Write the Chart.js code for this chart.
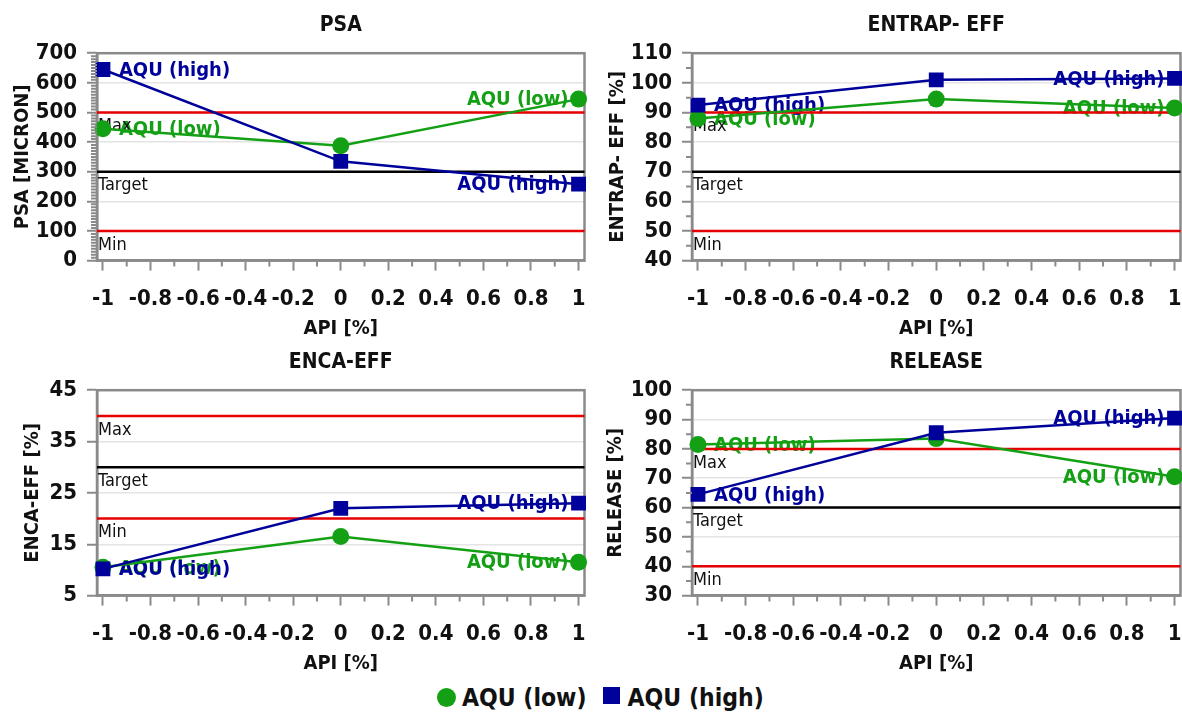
<!DOCTYPE html>
<html>
<head>
<meta charset="utf-8">
<title>API response plots</title>
<script src="https://cdn.jsdelivr.net/npm/chart.js@4.4.1/dist/chart.umd.min.js"></script>
<style>
  html, body { margin: 0; padding: 0; background: #fff; }
  body { width: 1182px; height: 712px; position: relative; overflow: hidden; font-family: "DejaVu Sans Condensed", "DejaVu Sans", sans-serif; }
  canvas { position: absolute; }
  #psaChart { left: 0; top: 0; }
  #entrapChart { left: 590px; top: 0; }
  #encaChart { left: 0; top: 337px; }
  #releaseChart { left: 590px; top: 337px; }
  .legend { position: absolute; left: 437px; top: 682px; height: 30px; display: flex; align-items: center; font-weight: bold; font-size: 24.5px; color: #111; white-space: nowrap; }
  .legend .dot { width: 19px; height: 19px; border-radius: 50%; background: #14a014; margin-right: 6px; }
  .legend .sq { width: 17px; height: 17px; background: #00009a; margin: 0 8px 4px 16px; }
</style>
</head>
<body>
<canvas id="psaChart" width="595" height="344"></canvas>
<canvas id="entrapChart" width="601" height="344"></canvas>
<canvas id="encaChart" width="595" height="342"></canvas>
<canvas id="releaseChart" width="601" height="342"></canvas>
<div class="legend">
  <span class="dot"></span><span>AQU (low)</span><span class="sq"></span><span>AQU (high)</span>
</div>

<script>
// factor levels (x) and series
const apiLevels = [-1, 0, 1];
const seriesNames = ["AQU (low)", "AQU (high)"];
const xTicks = [-1, -0.8, -0.6, -0.4, -0.2, 0, 0.2, 0.4, 0.6, 0.8, 1];
const limitNames = ["Max", "Target", "Min"];

// PSA [MICRON]
const psaLow = [445, 388, 545];
const psaHigh = [645, 335, 258];
const psaLimits = [500, 300, 100];
const psaTicks = [0, 100, 200, 300, 400, 500, 600, 700];

// ENTRAP- EFF [%]
const entrapLow = [88, 94.5, 91.5];
const entrapHigh = [92.5, 101, 101.5];
const entrapLimits = [90, 70, 50];
const entrapTicks = [40, 50, 60, 70, 80, 90, 100, 110];

// ENCA-EFF [%]
const encaLow = [10.5, 16.5, 11.5];
const encaHigh = [10.2, 22, 23];
const encaLimits = [40, 30, 20];
const encaTicks = [5, 15, 25, 35, 45];

// RELEASE [%]
const releaseLow = [81.5, 83.5, 70.5];
const releaseHigh = [64.5, 85.5, 90.5];
const releaseLimits = [80, 60, 40];
const releaseTicks = [30, 40, 50, 60, 70, 80, 90, 100];

const GREEN = "#14a014";
const BLUE = "#00009a";
const RED = "#e60000";
const AXIS = "#8a8a8a";
const FONT = '"DejaVu Sans Condensed", "DejaVu Sans"';
const limitColors = [RED, "#000000", RED];

// plot frame (top/right edges) drawn under the marks
const frame = {
  id: "frame",
  beforeDatasetsDraw(chart) {
    const { ctx, chartArea: a } = chart;
    ctx.save();
    ctx.strokeStyle = AXIS;
    ctx.lineWidth = 2.5;
    ctx.strokeRect(a.left, a.top, a.right - a.left, a.bottom - a.top);
    ctx.restore();
  }
};

// short ticks between the labelled ones
const minorTicks = {
  id: "minorTicks",
  afterDraw(chart, args, opts) {
    const { ctx, chartArea: a, scales } = chart;
    ctx.save();
    ctx.strokeStyle = AXIS;
    ctx.lineWidth = 2;
    ctx.beginPath();
    for (let v = -0.9; v < 1; v += 0.2) {
      const px = scales.x.getPixelForValue(v);
      ctx.moveTo(px, a.bottom);
      ctx.lineTo(px, a.bottom + 6);
    }
    if (opts.yStep) {
      const y = scales.y;
      const majors = y.ticks.map(t => t.value);
      for (let v = y.min + opts.yStep; v < y.max - 1e-6; v += opts.yStep) {
        if (majors.some(m => Math.abs(m - v) < 1e-6)) continue;
        const py = y.getPixelForValue(v);
        ctx.moveTo(a.left, py);
        ctx.lineTo(a.left - 6, py);
      }
    }
    ctx.stroke();
    ctx.restore();
  }
};

// series names beside the end points, then the Max / Target / Min lines
const annotate = {
  id: "annotate",
  beforeDatasetsDraw(chart, args, opts) {
    const { ctx, chartArea: a, scales } = chart;
    ctx.save();
    ctx.font = "bold 20px " + FONT;
    ctx.textBaseline = "middle";
    chart.data.datasets.forEach((ds, i) => {
      const pts = chart.getDatasetMeta(i).data;
      const first = pts[0], last = pts[pts.length - 1];
      ctx.fillStyle = ds.borderColor;
      ctx.textAlign = "left";
      ctx.fillText(ds.label, first.x + 16, first.y + 1);
      ctx.textAlign = "right";
      ctx.fillText(ds.label, last.x - 10, last.y + 1);
    });

    opts.limits.forEach((v, i) => {
      const py = scales.y.getPixelForValue(v);
      ctx.strokeStyle = limitColors[i];
      ctx.lineWidth = 2.5;
      ctx.beginPath();
      ctx.moveTo(a.left, py);
      ctx.lineTo(a.right, py);
      ctx.stroke();
      ctx.fillStyle = "#111";
      ctx.font = "18px " + FONT;
      ctx.textAlign = "left";
      ctx.textBaseline = "top";
      ctx.fillText(limitNames[i], a.left + 1, py + 5);
    });
    ctx.restore();
  }
};

function points(values) {
  return apiLevels.map((x, i) => ({ x: x, y: values[i] }));
}

function fmt(v) {
  return String(Math.round(v * 10) / 10);
}

function makeChart(id, c) {
  const bold = size => ({ family: FONT, size: size, weight: "bold" });
  return new Chart(document.getElementById(id), {
    type: "line",
    data: {
      datasets: [
        {
          label: seriesNames[0],
          data: points(c.low),
          borderColor: GREEN,
          backgroundColor: GREEN,
          borderWidth: 2.5,
          pointStyle: "circle",
          pointRadius: 8.5,
          pointBorderWidth: 0,
          order: 1,
          clip: 20
        },
        {
          label: seriesNames[1],
          data: points(c.high),
          borderColor: BLUE,
          backgroundColor: BLUE,
          borderWidth: 2.5,
          pointStyle: "rect",
          pointRadius: 10.5,
          pointBorderWidth: 0,
          order: 0,
          clip: 20
        }
      ]
    },
    options: {
      responsive: false,
      animation: false,
      layout: { padding: { right: 1 } },
      plugins: {
        legend: { display: false },
        tooltip: { enabled: false },
        title: {
          display: true,
          fullSize: false,
          text: c.title,
          color: "#111",
          font: bold(21),
          padding: { top: 13, bottom: 15 }
        },
        annotate: { limits: c.limits },
        minorTicks: { yStep: c.minorStep }
      },
      scales: {
        x: {
          type: "linear",
          min: -1.025,
          max: 1.025,
          afterBuildTicks: s => { s.ticks = xTicks.map(v => ({ value: v })); },
          // end labels sit inside the frame, so no extra side padding
          afterFit: s => { s.paddingLeft = 0; s.paddingRight = 0; },
          ticks: {
            autoSkip: false,
            maxRotation: 0,
            padding: 15,
            color: "#111",
            font: bold(22),
            callback: v => fmt(v)
          },
          grid: { drawOnChartArea: false, tickColor: AXIS, tickLength: 10, tickWidth: 2 },
          border: { color: AXIS, width: 2.5 },
          title: {
            display: true,
            text: "API [%]",
            color: "#111",
            font: bold(20),
            padding: { top: -10, bottom: 3 }
          }
        },
        y: {
          min: c.ticks[0],
          max: c.ticks[c.ticks.length - 1],
          afterBuildTicks: s => { s.ticks = c.ticks.map(v => ({ value: v })); },
          afterFit: s => { s.width = c.axisWidth; },
          ticks: { autoSkip: false, padding: 10, color: "#111", font: bold(22) },
          grid: { color: "#e4e4e4", lineWidth: 1.5, tickColor: AXIS, tickLength: 10, tickWidth: 2 },
          border: { color: AXIS, width: 2.5 },
          title: {
            display: true,
            text: c.yTitle,
            color: "#111",
            font: bold(20),
            padding: { top: c.titlePad, bottom: 0 }
          }
        }
      }
    },
    plugins: [frame, annotate, minorTicks]
  });
}

makeChart("psaChart", {
  title: "PSA", yTitle: "PSA [MICRON]", low: psaLow, high: psaHigh,
  limits: psaLimits, ticks: psaTicks, minorStep: 10,
  axisWidth: 97, titlePad: 11
});
makeChart("entrapChart", {
  title: "ENTRAP- EFF", yTitle: "ENTRAP- EFF [%]", low: entrapLow, high: entrapHigh,
  limits: entrapLimits, ticks: entrapTicks, minorStep: 5,
  axisWidth: 102, titlePad: 16
});
makeChart("encaChart", {
  title: "ENCA-EFF", yTitle: "ENCA-EFF [%]", low: encaLow, high: encaHigh,
  limits: encaLimits, ticks: encaTicks, minorStep: null,
  axisWidth: 97, titlePad: 21
});
makeChart("releaseChart", {
  title: "RELEASE", yTitle: "RELEASE [%]", low: releaseLow, high: releaseHigh,
  limits: releaseLimits, ticks: releaseTicks, minorStep: 5,
  axisWidth: 102, titlePad: 14
});
</script>
</body>
</html>
